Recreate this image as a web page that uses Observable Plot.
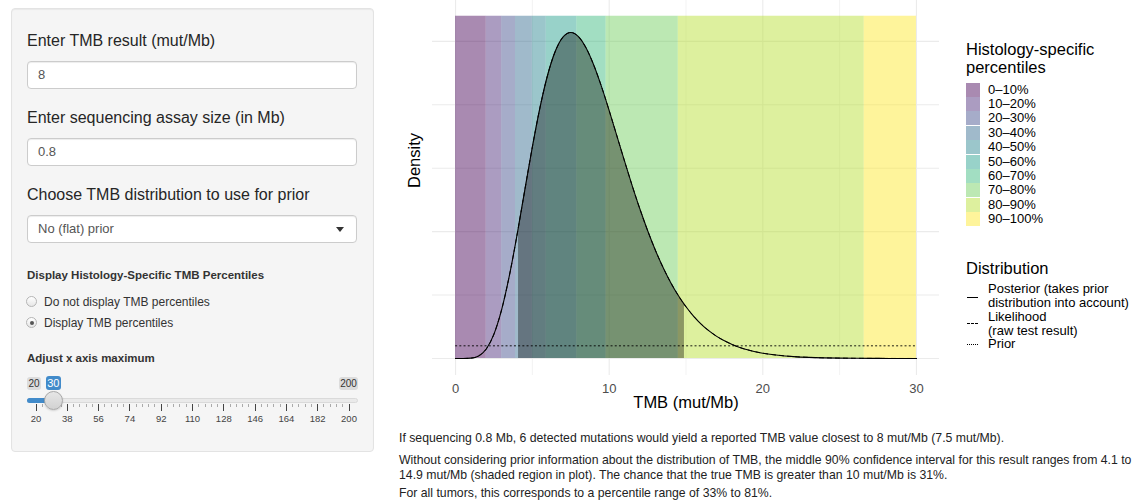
<!DOCTYPE html>
<html><head><meta charset="utf-8">
<script src="https://cdn.jsdelivr.net/npm/d3@7"></script>
<script src="https://cdn.jsdelivr.net/npm/@observablehq/plot@0.6"></script>
<style>
body{margin:0;width:1137px;height:502px;overflow:hidden;background:#fff;font-family:"Liberation Sans",Arial,Helvetica,sans-serif;color:#333;position:relative}
.abs{position:absolute;white-space:nowrap}
.well{position:absolute;left:11px;top:8px;width:363px;height:444px;box-sizing:border-box;background:#f5f5f5;border:1px solid #e3e3e3;border-radius:4px;box-shadow:inset 0 1px 1px rgba(0,0,0,.05)}
.lbl{font-size:16px;line-height:20px;color:#262626;left:27px}
.inp{position:absolute;left:27px;width:330px;height:28px;line-height:26px;box-sizing:border-box;background:#fff;border:1px solid #ccc;border-radius:4px;font-size:13px;color:#555;padding-left:10px;box-shadow:inset 0 1px 1px rgba(0,0,0,.075)}
.caret{position:absolute;right:12px;top:11px;width:0;height:0;border-left:4.5px solid transparent;border-right:4.5px solid transparent;border-top:5px solid #333}
.head{left:27px;font-size:11.5px;font-weight:bold;line-height:20px;color:#333}
.radio{position:absolute;width:9px;height:9px;border-radius:50%;border:1px solid #b5b5b5;background:linear-gradient(#fff,#e6e6e6)}
.radio.on::after{content:"";position:absolute;left:2.5px;top:2.5px;width:4px;height:4px;border-radius:50%;background:#555}
.rtxt{left:44px;font-size:12px;line-height:16px;color:#333}
.badge{position:absolute;top:377px;height:13px;line-height:13px;font-size:10px;text-align:center;border-radius:3px;background:rgba(0,0,0,.1);color:#333}
.badge.cur{background:#428bca;color:#fff;font-size:11px}
.track{position:absolute;left:27px;top:398px;width:331px;height:5px;border-radius:3px;background:#eaeaea;border:1px solid #dadada;box-sizing:border-box}
.bar{position:absolute;left:27px;top:398px;height:5px;border-radius:3px 0 0 3px;background:#428bca}
.handle{position:absolute;width:19px;height:19px;border-radius:50%;box-sizing:border-box;border:1px solid #a8a8a8;background:linear-gradient(#e6e6e6,#d2d2d2);box-shadow:0 1px 2px rgba(0,0,0,.15)}
.tick{position:absolute;width:1px;background:#444}
.mtick{position:absolute;width:1px;background:#aaa}
.tlab{position:absolute;top:413px;font-size:9.5px;line-height:12px;color:#444;text-align:center;width:30px}
.leg-title{left:966px;font-size:16.5px;line-height:18px;color:#000}
.key{position:absolute;left:966px;width:14px;height:14px}
.klab{left:988px;font-size:13px;line-height:12px;color:#000}
.dkey{position:absolute;left:967px;width:11px;height:0;border-top:1px solid #000}
.txt{left:399px;font-size:12.25px;line-height:13px;color:#222}
#chart{position:absolute;left:390px;top:0}
</style></head>
<body>
<div class="well"></div>
<div class="abs lbl" style="top:31px">Enter TMB result (mut/Mb)</div>
<div class="inp" style="top:61px">8</div>
<div class="abs lbl" style="top:108px">Enter sequencing assay size (in Mb)</div>
<div class="inp" style="top:138px">0.8</div>
<div class="abs lbl" style="top:185px">Choose TMB distribution to use for prior</div>
<div class="inp" style="top:215px">No (flat) prior<div class="caret"></div></div>
<div class="abs head" style="top:265px">Display Histology-Specific TMB Percentiles</div>
<div class="radio" style="left:26px;top:296px"></div>
<div class="abs rtxt" style="top:294px">Do not display TMB percentiles</div>
<div class="radio on" style="left:26px;top:317px"></div>
<div class="abs rtxt" style="top:315px">Display TMB percentiles</div>
<div class="abs head" style="top:348px">Adjust x axis maximum</div>
<div id="slider"></div>
<div id="chart"></div>
<div id="legend"></div>
<div class="abs txt" style="top:432px">If sequencing 0.8 Mb, 6 detected mutations would yield a reported TMB value closest to 8 mut/Mb (7.5 mut/Mb).</div>
<div class="abs txt" style="top:454px">Without considering prior information about the distribution of TMB, the middle 90% confidence interval for this result ranges from 4.1 to</div>
<div class="abs txt" style="top:469px">14.9 mut/Mb (shaded region in plot). The chance that the true TMB is greater than 10 mut/Mb is 31%.</div>
<div class="abs txt" style="top:487px">For all tumors, this corresponds to a percentile range of 33% to 81%.</div>
<script>
// ---- data ----
const posteriorX = [0,0.5,1,1.5,2,2.5,3,3.5,4,4.1,4.5,5,5.5,6,6.5,7,7.5,8,8.5,9,9.5,10,10.5,11,11.5,12,12.5,13,13.5,14,14.5,14.9,15,15.5,16,16.5,17,17.5,18,18.5,19,19.5,20,21,22,23,24,25,26,27,28,29,30];
const posteriorY = [0,0.000003,0.00013,0.00100,0.00376,0.00962,0.01926,0.03256,0.04863,0.05206,0.06609,0.08336,0.09899,0.11184,0.12118,0.12672,0.12850,0.12687,0.12235,0.11557,0.10715,0.09771,0.08777,0.07778,0.06807,0.05891,0.05045,0.04279,0.03597,0.02999,0.02481,0.02121,0.02039,0.01664,0.01349,0.01088,0.00872,0.00696,0.00552,0.00436,0.00343,0.00269,0.00210,0.00126,0.00075,0.00044,0.00026,0.00015,0.00008,0.00005,0.00003,0.00001,0.00001];
const likelihoodY = posteriorY; // flat prior: likelihood coincides with posterior
const priorX = [0, 30];
const priorY = [0.005, 0.005];
const ciLow = 4.1, ciHigh = 14.9;
const bandLabels = ["0–10%","10–20%","20–30%","30–40%","40–50%","50–60%","60–70%","70–80%","80–90%","90–100%"];
const bandLo = [0, 2.0, 3.0, 3.9, 5.0, 5.9, 7.9, 9.8, 14.5, 26.6];
const bandHi = [2.0, 3.0, 3.9, 5.0, 5.9, 7.9, 9.8, 14.5, 26.6, 30];
const bandTop = 0.1349;
const xTicks = [0, 10, 20, 30];
const xMinor = [5, 15, 25];
const yGrid = [0, 0.025, 0.05, 0.075, 0.1, 0.125];
const distLabels = [["Posterior (takes prior","distribution into account)"],["Likelihood","(raw test result)"],["Prior"]];
const sliderTicks = [20,38,56,74,92,110,128,146,164,182,200];
const sliderMin = 20, sliderMax = 200, sliderValue = 30;

const bandColors = ["#440154","#482878","#3E4A89","#31688E","#26828E","#1F9E89","#35B779","#6DCD59","#B4DE2C","#FDE725"];
const bandAlpha = 0.46;

// ---- chart ----
const posterior = posteriorX.map((x, i) => ({x, y: posteriorY[i]}));
const likelihood = posteriorX.map((x, i) => ({x, y: likelihoodY[i]}));
const prior = priorX.map((x, i) => ({x, y: priorY[i]}));
const shaded = posterior.filter(d => d.x >= ciLow && d.x <= ciHigh);
const bands = bandLabels.map((label, i) => ({label, lo: bandLo[i], hi: bandHi[i], color: bandColors[i]}));

const chart = Plot.plot({
  width: 560, height: 420,
  marginLeft: 42, marginRight: 11, marginTop: 0, marginBottom: 45,
  style: {fontFamily: '"Liberation Sans", Arial, sans-serif', fontSize: "13px", color: "#4d4d4d", background: "transparent", overflow: "visible"},
  x: {domain: [-1.5, 31.5], ticks: xTicks, tickSize: 0, tickPadding: 8, label: null},
  y: {domain: [-0.0067, 0.1411], axis: null},
  color: {type: "identity"},
  marks: [
    Plot.ruleY(yGrid, {stroke: "#ebebeb", strokeWidth: 1.1}),
    Plot.ruleX(xMinor, {stroke: "#ebebeb", strokeWidth: 0.6}),
    Plot.ruleX(xTicks, {stroke: "#ebebeb", strokeWidth: 1.1}),
    Plot.rect(bands, {x1: "lo", x2: "hi", y1: 0, y2: bandTop, fill: "color", fillOpacity: bandAlpha}),
    Plot.areaY(shaded, {x: "x", y: "y", fill: "black", fillOpacity: 0.37, curve: "monotone-x"}),
    Plot.line(prior, {x: "x", y: "y", stroke: "#000", strokeWidth: 0.9, strokeDasharray: "1.2,3"}),
    Plot.line(likelihood, {x: "x", y: "y", stroke: "#000", strokeWidth: 1, strokeDasharray: "4,4", curve: "monotone-x"}),
    Plot.line(posterior, {x: "x", y: "y", stroke: "#000", strokeWidth: 1.1, curve: "monotone-x"}),
    Plot.text(["TMB (mut/Mb)"], {text: d => d, frameAnchor: "bottom", dy: 32, fontSize: 16.5, fill: "#000"}),
    Plot.text(["Density"], {text: d => d, frameAnchor: "left", dx: -18, rotate: -90, fontSize: 16.5, fill: "#000"})
  ]
});
document.getElementById("chart").appendChild(chart);

// ---- legend ----
const leg = document.getElementById("legend");
function add(cls, style, text) {
  const d = document.createElement("div");
  d.className = cls; d.style.cssText = style; if (text != null) d.textContent = text;
  leg.appendChild(d); return d;
}
add("abs leg-title", "top:40px", "Histology-specific");
add("abs leg-title", "top:58px", "percentiles");
bandLabels.forEach((lab, i) => {
  const c = 89.7 + 14.37 * i;
  add("key", `top:${c - 7}px;background:${bandColors[i]};opacity:${bandAlpha}`);
  add("abs klab", `top:${c - 6}px`, lab);
});
add("abs leg-title", "top:259px", "Distribution");
const distKeyY = [297, 323, 344];
const distStyles = ["solid", "dashed", "dotted"];
const distLineTops = [[289, 303], [317, 331], [344]];
distLabels.forEach((lines, i) => {
  add("dkey", `top:${distKeyY[i]}px;border-top-style:${distStyles[i]}`);
  lines.forEach((t, j) => add("abs klab", `top:${distLineTops[i][j] - 6}px`, t));
});

// ---- slider ----
const sl = document.getElementById("slider");
function sadd(cls, style, text) {
  const d = document.createElement("div");
  d.className = cls; d.style.cssText = style; if (text != null) d.textContent = text;
  sl.appendChild(d); return d;
}
const sx = v => 36 + (v - sliderMin) / (sliderMax - sliderMin) * 313;
sadd("badge", "left:27px;width:14px", String(sliderMin));
sadd("badge cur", `left:${sx(sliderValue) - 7.5}px;width:15px;top:376px;height:14px;line-height:14px`, String(sliderValue));
sadd("badge", "left:339px;width:19px", String(sliderMax));
sadd("track", "");
sadd("bar", `width:${sx(sliderValue) - 27}px`);
sliderTicks.forEach((t, i) => {
  const x = sx(t);
  sadd("tick", `left:${x - 0.5}px;top:404px;height:7px`);
  sadd("tlab", `left:${x - 15}px`, String(t));
  if (i < sliderTicks.length - 1) {
    const nx = sx(sliderTicks[i + 1]);
    for (let k = 1; k < 5; k++) sadd("mtick", `left:${x + (nx - x) * k / 5 - 0.5}px;top:404px;height:3px`);
  }
});
sadd("handle", `left:${sx(sliderValue) - 9.5}px;top:391px`);
</script>
</body></html>
